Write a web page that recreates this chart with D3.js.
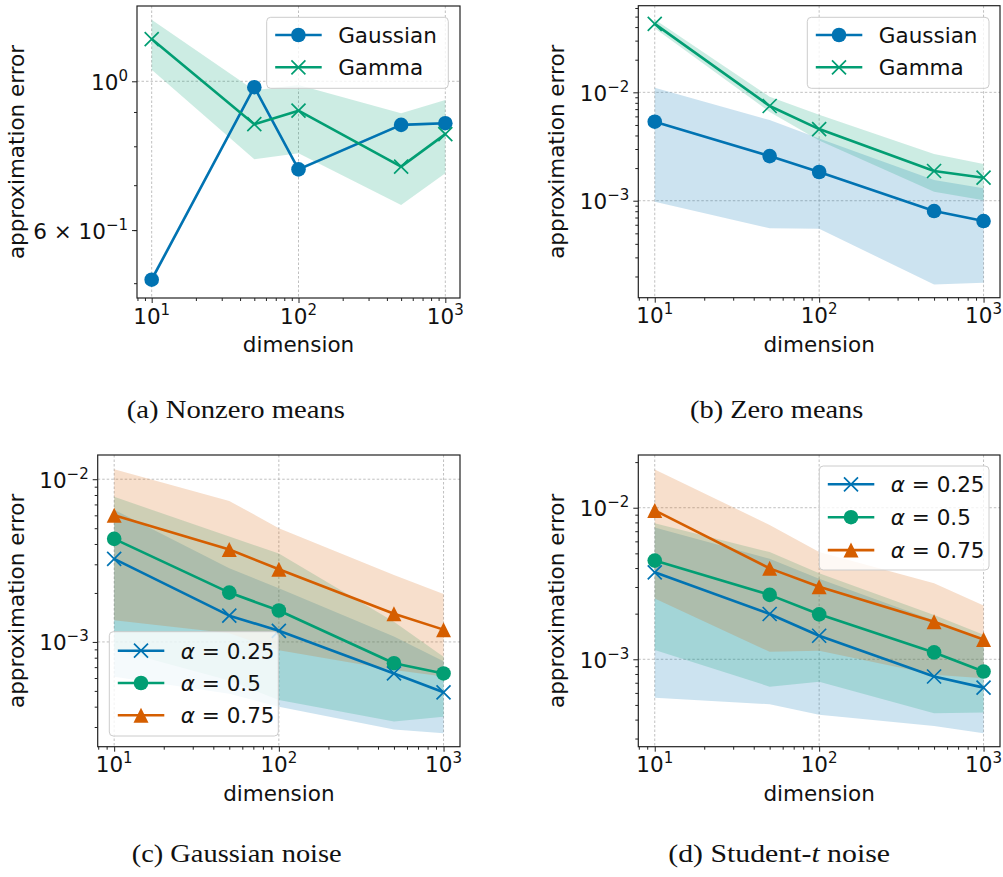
<!DOCTYPE html>
<html>
<head>
<meta charset="utf-8">
<script src="https://cdn.jsdelivr.net/npm/d3@7"></script>
<style>
  html, body { margin: 0; padding: 0; background: #fff; }
  svg { display: block; }
</style>
</head>
<body>
<div id="chart"></div>
<script>
// x values shared by all panels
const dims = [10, 50, 100, 500, 1000];

// (a) nonzero means
const aGaussian   = [0.506, 0.980, 0.739, 0.861, 0.866];
const aGaussianLo = [0.502, 0.975, 0.735, 0.857, 0.862];
const aGaussianHi = [0.512, 0.985, 0.743, 0.865, 0.870];
const aGamma      = [1.156, 0.863, 0.904, 0.746, 0.834];
const aGammaLo    = [1.040, 0.765, 0.781, 0.654, 0.729];
const aGammaHi    = [1.235, 0.970, 0.987, 0.896, 0.938];

// (b) zero means
const bGaussian   = [0.00536, 0.00258, 0.00184, 0.000803, 0.000649];
const bGaussianLo = [0.00098, 0.000556, 0.00055, 0.000169, 0.000175];
const bGaussianHi = [0.0110, 0.00555, 0.00376, 0.00155, 0.0013];
const bGamma      = [0.0428, 0.00748, 0.00458, 0.00188, 0.00163];
const bGammaLo    = [0.0390, 0.0066, 0.0036, 0.00121, 0.00101];
const bGammaHi    = [0.0470, 0.0091, 0.0062, 0.0027, 0.00218];

// (c) gaussian noise
const c25   = [0.00324, 0.00145, 0.00117, 0.00064, 0.00049];
const c25Lo = [0.00061, 0.00048, 0.00040, 0.00029, 0.000275];
const c25Hi = [0.0065, 0.00284, 0.00214, 0.00108, 0.00076];
const c50   = [0.0043, 0.00201, 0.00156, 0.00074, 0.00064];
const c50Lo = [0.0009, 0.00058, 0.00044, 0.000324, 0.000347];
const c50Hi = [0.0078, 0.00444, 0.0035, 0.00133, 0.00081];
const c75   = [0.0060, 0.0037, 0.0028, 0.00149, 0.00119];
const c75Lo = [0.00136, 0.00113, 0.00089, 0.000673, 0.000612];
const c75Hi = [0.0115, 0.00736, 0.0050, 0.00258, 0.00197];

// (d) student-t noise
const d25   = [0.00375, 0.00199, 0.00143, 0.00077, 0.00065];
const d25Lo = [0.000558, 0.000505, 0.00043, 0.000363, 0.000325];
const d25Hi = [0.0074, 0.0046, 0.0034, 0.0018, 0.00135];
const d50   = [0.00448, 0.00266, 0.00198, 0.00111, 0.00083];
const d50Lo = [0.00115, 0.00066, 0.00071, 0.00044, 0.000445];
const d50Hi = [0.0079, 0.0051, 0.0037, 0.00196, 0.00145];
const d75   = [0.0096, 0.00398, 0.00301, 0.00177, 0.00135];
const d75Lo = [0.00252, 0.00112, 0.00114, 0.00079, 0.00075];
const d75Hi = [0.0179, 0.0077, 0.0051, 0.00317, 0.00226];

// tick labels
const xTickVals = [10, 100, 1000];
const xTickExp  = ['1', '2', '3'];
const aYTickVals = [0.6, 1];
const aYTickPre  = ['6 × 10', '10'];
const aYTickExp  = ['−1', '0'];
const bcdYTickVals = [0.001, 0.01];
const bcdYTickPre  = ['10', '10'];
const bcdYTickExp  = ['−3', '−2'];

const alphaLabels = ['0.25', '0.5', '0.75'];
const captions = ['(a) Nonzero means', '(b) Zero means', '(c) Gaussian noise', '(d) Student-'];

const BLUE = '#0173b2', GREEN = '#029e73', ORANGE = '#d55e00';
const FONT = '"DejaVu Sans", sans-serif';
const FS = 21.5;
const LW = 2.6;

const svg = d3.select('#chart').append('svg')
  .attr('width', 1003).attr('height', 877);

function minorTicks(lo, hi) {
  let out = [];
  for (let e = -6; e <= 4; e++) {
    for (let m = 2; m <= 9; m++) {
      let v = m * Math.pow(10, e);
      if (v >= lo && v <= hi) out.push(v);
    }
  }
  return out;
}

function drawPanel(p) {
  const x = d3.scaleLog().domain([Math.pow(10, 0.9), Math.pow(10, 3.1)]).range([p.left, p.right]);
  const y = d3.scaleLog().domain(p.yDomain).range([p.bottom, p.top]);
  const g = svg.append('g');

  // grid
  const grid = g.append('g').attr('stroke', '#b0b0b0').attr('stroke-width', 0.8)
    .attr('stroke-dasharray', '2.5,2');
  xTickVals.forEach(v => grid.append('line')
    .attr('x1', x(v)).attr('x2', x(v)).attr('y1', p.top).attr('y2', p.bottom));
  p.gridY.forEach(v => grid.append('line')
    .attr('x1', p.left).attr('x2', p.right).attr('y1', y(v)).attr('y2', y(v)));

  // bands
  const area = d3.area().x((d, i) => x(dims[i])).y0(d => y(d[0])).y1(d => y(d[1]));
  p.series.forEach(s => {
    if (!s.lo) return;
    g.append('path')
      .datum(s.lo.map((v, i) => [v, s.hi[i]]))
      .attr('d', area).attr('fill', s.color).attr('fill-opacity', 0.2);
  });

  // lines + markers
  const line = d3.line().x((d, i) => x(dims[i])).y(d => y(d));
  p.series.forEach(s => {
    g.append('path').datum(s.values).attr('d', line)
      .attr('fill', 'none').attr('stroke', s.color).attr('stroke-width', LW)
      .attr('stroke-linejoin', 'round');
    s.values.forEach((v, i) => drawMarker(g, s.marker, x(dims[i]), y(v), s.color));
  });

  // axes
  g.append('g').attr('transform', `translate(0,${p.bottom})`)
    .call(d3.axisBottom(x).tickValues(xTickVals).tickSize(5).tickFormat(''));
  g.append('g').attr('transform', `translate(0,${p.bottom})`)
    .call(d3.axisBottom(x).tickValues(minorTicks(8, 1200)).tickSize(3).tickFormat(''));
  g.append('g').attr('transform', `translate(${p.left},0)`)
    .call(d3.axisLeft(y).tickValues(p.yTickVals).tickSize(5).tickFormat(''));
  g.append('g').attr('transform', `translate(${p.left},0)`)
    .call(d3.axisLeft(y).tickValues(minorTicks(p.yDomain[0], p.yDomain[1])
      .filter(v => p.yTickVals.indexOf(v) < 0 && v.toPrecision(3) != '0.100')).tickSize(3).tickFormat(''));
  g.selectAll('.domain').remove();
  g.selectAll('.tick line').attr('stroke', '#222').attr('stroke-width', 1);

  xTickVals.forEach((v, i) => {
    const t = g.append('text').attr('x', x(v)).attr('y', p.bottom + 25.5)
      .attr('text-anchor', 'middle').attr('font-family', FONT).attr('font-size', FS).attr('fill', '#111');
    t.append('tspan').text('10');
    t.append('tspan').attr('font-size', 15).attr('dy', -9).text(xTickExp[i]);
  });
  p.yTickVals.forEach((v, i) => {
    const t = g.append('text').attr('x', p.left - 9).attr('y', y(v) + 8.5)
      .attr('text-anchor', 'end').attr('font-family', FONT).attr('font-size', FS).attr('fill', '#111');
    t.append('tspan').text(p.yTickPre[i]);
    t.append('tspan').attr('font-size', 15).attr('dy', -9).text(p.yTickExp[i]);
  });

  // frame
  g.append('rect').attr('x', p.left).attr('y', p.top)
    .attr('width', p.right - p.left).attr('height', p.bottom - p.top)
    .attr('fill', 'none').attr('stroke', '#222').attr('stroke-width', 1.2);

  // axis labels
  g.append('text').attr('x', (p.left + p.right) / 2).attr('y', p.bottom + 54)
    .attr('text-anchor', 'middle').attr('font-family', FONT).attr('font-size', FS).attr('fill', '#111')
    .text('dimension');
  g.append('text')
    .attr('transform', `translate(${p.yLabelX},${(p.top + p.bottom) / 2}) rotate(-90)`)
    .attr('text-anchor', 'middle').attr('font-family', FONT).attr('font-size', FS).attr('fill', '#111')
    .text('approximation error');

  // legend
  const L = p.legend;
  const lg = g.append('g');
  lg.append('rect').attr('x', L.x).attr('y', L.y).attr('width', L.w).attr('height', L.h)
    .attr('rx', 4).attr('fill', '#fff').attr('fill-opacity', 0.8)
    .attr('stroke', '#cccccc').attr('stroke-width', 1);
  p.series.forEach((s, i) => {
    const ry = L.y + L.first + i * L.step;
    lg.append('line').attr('x1', L.x + 8.5).attr('x2', L.x + 55).attr('y1', ry).attr('y2', ry)
      .attr('stroke', s.color).attr('stroke-width', LW);
    drawMarker(lg, s.marker, L.x + 31.7, ry, s.color);
    const t = lg.append('text').attr('x', L.x + 71.5).attr('y', ry + 7.8)
      .attr('font-family', FONT).attr('font-size', FS).attr('fill', '#111');
    if (s.alpha) {
      t.append('tspan').attr('font-style', 'italic').text('α');
      t.append('tspan').text(' = ' + s.alpha);
    } else {
      t.text(s.name);
    }
  });

  // caption
  const c = svg.append('text').attr('x', (p.capL + p.capR) / 2).attr('y', p.capY)
    .attr('text-anchor', 'middle').attr('font-family', '"Liberation Serif", serif')
    .attr('font-size', 24.5).attr('fill', '#111')
    .attr('textLength', p.capR - p.capL).attr('lengthAdjust', 'spacingAndGlyphs');
  c.append('tspan').text(p.caption);
  if (p.captionTail) {
    c.append('tspan').attr('font-style', 'italic').text('t');
    c.append('tspan').text(p.captionTail);
  }
}

function drawMarker(g, kind, cx, cy, color) {
  if (kind == 'o') {
    g.append('circle').attr('cx', cx).attr('cy', cy).attr('r', 7.3).attr('fill', color);
  } else if (kind == 'x') {
    const r = 7;
    g.append('path')
      .attr('d', `M${cx - r},${cy - r}L${cx + r},${cy + r}M${cx - r},${cy + r}L${cx + r},${cy - r}`)
      .attr('stroke', color).attr('stroke-width', 1.7).attr('fill', 'none');
  } else if (kind == '^') {
    const r = 7.5;
    g.append('path')
      .attr('d', `M${cx},${cy - r}L${cx + r},${cy + r}L${cx - r},${cy + r}Z`)
      .attr('fill', color);
  }
}

drawPanel({
  left: 137, right: 460, top: 6, bottom: 298, yDomain: [0.4752, 1.295],
  yTickVals: aYTickVals, yTickPre: aYTickPre, yTickExp: aYTickExp, gridY: [1],
  yLabelX: 24,
  series: [
    {name: 'Gaussian', color: BLUE, marker: 'o', values: aGaussian, lo: aGaussianLo, hi: aGaussianHi},
    {name: 'Gamma', color: GREEN, marker: 'x', values: aGamma, lo: aGammaLo, hi: aGammaHi}
  ],
  legend: {x: 266.7, y: 17.3, w: 181.6, h: 71, first: 17.7, step: 32.3},
  caption: captions[0], capL: 126.7, capR: 345, capY: 418
});

drawPanel({
  left: 638.3, right: 1000, top: 5.7, bottom: 297.7, yDomain: [1.274e-4, 0.0630],
  yTickVals: bcdYTickVals, yTickPre: bcdYTickPre, yTickExp: bcdYTickExp, gridY: bcdYTickVals,
  yLabelX: 564,
  series: [
    {name: 'Gaussian', color: BLUE, marker: 'o', values: bGaussian, lo: bGaussianLo, hi: bGaussianHi},
    {name: 'Gamma', color: GREEN, marker: 'x', values: bGamma, lo: bGammaLo, hi: bGammaHi}
  ],
  legend: {x: 807.3, y: 17.3, w: 181.7, h: 71, first: 17.7, step: 32.3},
  caption: captions[1], capL: 690, capR: 863.3, capY: 418
});

drawPanel({
  left: 97.7, right: 460, top: 455, bottom: 746.7, yDomain: [2.27e-4, 0.01409],
  yTickVals: bcdYTickVals, yTickPre: bcdYTickPre, yTickExp: bcdYTickExp, gridY: bcdYTickVals,
  yLabelX: 24,
  series: [
    {alpha: alphaLabels[0], color: BLUE, marker: 'x', values: c25, lo: c25Lo, hi: c25Hi},
    {alpha: alphaLabels[1], color: GREEN, marker: 'o', values: c50, lo: c50Lo, hi: c50Hi},
    {alpha: alphaLabels[2], color: ORANGE, marker: '^', values: c75, lo: c75Lo, hi: c75Hi}
  ],
  legend: {x: 109.3, y: 631.7, w: 169, h: 104.3, first: 19, step: 32.3},
  caption: captions[2], capL: 131.7, capR: 341.7, capY: 862
});

drawPanel({
  left: 638.3, right: 1000, top: 455, bottom: 746.7, yDomain: [2.65e-4, 0.02228],
  yTickVals: bcdYTickVals, yTickPre: bcdYTickPre, yTickExp: bcdYTickExp, gridY: bcdYTickVals,
  yLabelX: 564,
  series: [
    {alpha: alphaLabels[0], color: BLUE, marker: 'x', values: d25, lo: d25Lo, hi: d25Hi},
    {alpha: alphaLabels[1], color: GREEN, marker: 'o', values: d50, lo: d50Lo, hi: d50Hi},
    {alpha: alphaLabels[2], color: ORANGE, marker: '^', values: d75, lo: d75Lo, hi: d75Hi}
  ],
  legend: {x: 819.3, y: 466, w: 169.7, h: 104, first: 18.3, step: 32.9},
  caption: captions[3], captionTail: ' noise', capL: 668.3, capR: 890, capY: 862
});
</script>
</body>
</html>
